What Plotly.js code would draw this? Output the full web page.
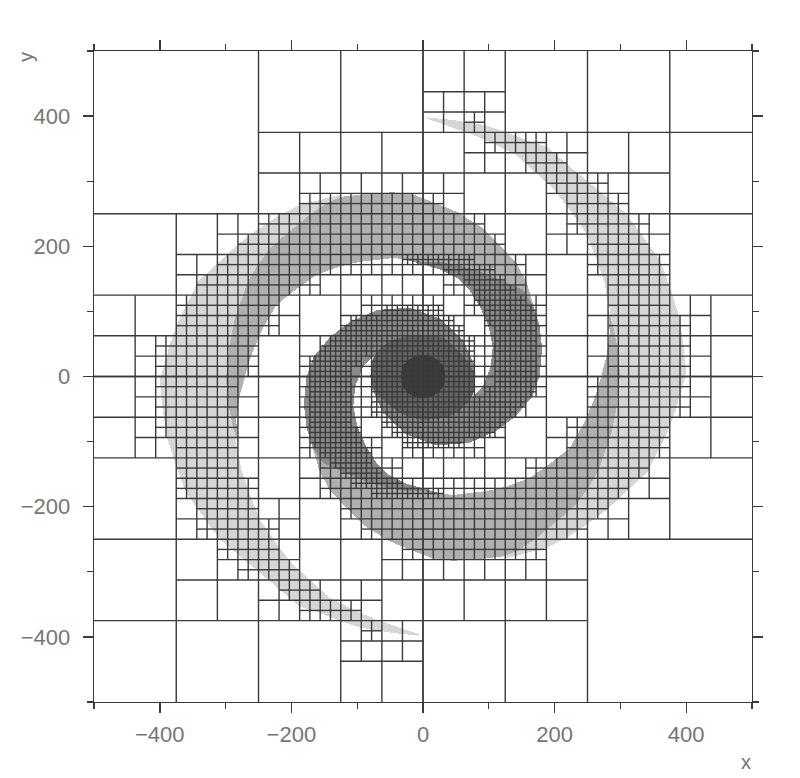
<!DOCTYPE html>
<html><head><meta charset="utf-8">
<script src="https://cdn.plot.ly/plotly-3.0.1.min.js"></script>
<style>html,body{margin:0;padding:0;background:#fff}
.scatterlayer .fills path{shape-rendering:crispEdges}</style>
</head><body><div id="chart" style="width:800px;height:778px"></div>
<script>
// Arm outlines (data units): the galaxy is point-symmetric,
// so each list traces one arm and the opposite arm is its 180-degree image.
const lightX=[6,46,94,125,157,188,218,248,279,309,334,360,375,388,395,400,390,385,372,357,342,312,279,248,218,188,157,127,100,230,275,271,279,284,284,276,264,248,223,198,167,142,107,76,46,6];
const lightY=[398,394,386,376,363,353,327,302,276,250,215,179,138,97,56,5,-28,-49,-84,-115,-146,-174,-205,-228,-248,-263,-271,-279,-230,-130,-30,5,31,66,102,143,179,220,256,289,317,340,358,371,382,396];
const midX=[281,289,298,299,294,286,266,251,233,203,173,147,124,81,46,16,0,-20,-51,-91,-121,-142,-157,-172,-140,-75,-30,0,16,46,97,127,162,198,223,246,259,271,279,284];
const midY=[102,77,31,0,-49,-89,-146,-171,-197,-222,-248,-266,-276,-281,-283,-280,-274,-266,-253,-228,-197,-174,-146,-95,-100,-145,-172,-174,-179,-182,-176,-169,-156,-130,-110,-69,-38,0,31,66];
const darkX=[31,0,-35,-76,-111,-152,-167,-177,-181,-177,-166,-141,-111,-70,-20,26,61,79,74,0,-73,-91,-103,-106,-99,-86,-71,-51,-25,0];
const darkY=[-181,-176,-175,-165,-151,-133,-110,-79,-43,0,31,61,84,102,106,89,56,15,-26,0,33,15,-15,-46,-79,-108,-132,-152,-165,-172];
const ringX=[-80,-73,-55,-30,0,31,61,79,74,51,26,-5,-35,-60,-75];
const ringY=[0,33,51,61,64,59,31,0,-31,-56,-64,-66,-56,-36,-20];
const coreX=[-34,-30,-17,0,17,30,34,30,17,0,-17,-30];
const coreY=[0,17,29,34,29,17,0,-17,-29,-34,-29,-17];

// Quadtree cells that are split, upper half, in index units of 15.625:
// each row is [bottom index j, [from i, to i, from i, to i ...]].
const split64=[[-32,[-32,32]]];
const split32=[[0,[-32,32]]];
const split16=[[16,[-16,32]],[0,[-32,32]]];
const split8=[[24,[0,8]],[16,[-16,24]],[8,[-24,24]],[0,[-32,32]]];
const split4=[[24,[0,8]],[20,[4,16]],[16,[-12,4,12,20]],[12,[-20,8,12,24]],[8,[-24,12,16,24]],[4,[-24,-12,-8,12,16,28]],[0,[-28,-16,-12,12,16,28]]];
const split2=[[24,[4,6]],[22,[6,12]],[20,[10,14]],[18,[12,18]],[16,[-12,2,14,20]],[14,[-16,6,14,22]],[12,[-18,8,16,22]],[10,[-20,10,16,24]],[8,[-22,-10,2,10,18,24]],[6,[-24,-14,-6,2,4,12,18,24]],[4,[-24,-14,-8,4,6,12,18,26]],[2,[-26,-16,-10,12,18,26]],[0,[-26,-16,-12,12,18,26]]];
const split1=[[11,[-2,5]],[10,[2,7]],[9,[4,8]],[8,[5,9]],[7,[5,10]],[6,[-4,2,6,11]],[5,[-7,3,6,11]],[4,[-8,4,7,11]],[3,[-9,5,7,11]],[2,[-10,5,7,11]],[1,[-11,-6,-5,5,7,11]],[0,[-11,-7,-5,5,7,11]]];

const xTickVals=[-400,-200,0,200,400];
const fills=['#d6d6d6','#b0b0b0','#8a8a8a','#646464','#3c3c3c'];
const lineColor='#3a3a3a', textColor='#767676';

const UNIT=15.625;
const gx=[],gy=[];
function seg(x0,y0,x1,y1){gx.push(x0*UNIT,x1*UNIT,null);gy.push(y0*UNIT,y1*UNIT,null);}
function cross(i,j,s){seg(i+s/2,j,i+s/2,j+s);seg(i,j+s/2,i+s,j+s/2);}
function addLevel(rows,s){
  rows.forEach(([j,spans])=>{
    for(let k=0;k<spans.length;k+=2){
      for(let i=spans[k];i<spans[k+1];i+=s){
        cross(i,j,s);
        cross(-i-s,-j-s,s);
      }
    }
  });
}
addLevel(split64,64);addLevel(split32,32);addLevel(split16,16);addLevel(split8,8);addLevel(split4,4);addLevel(split2,2);addLevel(split1,1);

function area(x,y,c,shape){return {x:x,y:y,type:'scatter',mode:'lines',fill:'toself',fillcolor:c,line:{width:0,color:c,shape:shape||'linear'},hoverinfo:'skip',showlegend:false};}
const neg=a=>a.map(v=>-v);
const traces=[
  area(lightX,lightY,fills[0]),area(neg(lightX),neg(lightY),fills[0]),
  area(midX,midY,fills[1]),area(neg(midX),neg(midY),fills[1]),
  area(darkX,darkY,fills[2]),area(neg(darkX),neg(darkY),fills[2]),
  area(ringX,ringY,fills[3],'spline'),area(coreX,coreY,fills[4],'spline'),
  {x:gx,y:gy,type:'scatter',mode:'lines',line:{color:lineColor,width:1.4,simplify:false},connectgaps:false,hoverinfo:'skip',showlegend:false}
];
const axisBase={range:[-500,500],showgrid:false,zeroline:false,showline:true,linecolor:lineColor,linewidth:1.4,mirror:'allticks',
  ticks:'outside',ticklen:10,tickwidth:1.4,tickcolor:lineColor,tickmode:'array',tickvals:xTickVals,
  tickfont:{family:'Liberation Sans',size:22,color:textColor},
  minor:{tickmode:'array',tickvals:[-500,-300,-100,100,300,500],ticks:'outside',ticklen:6,tickwidth:1.4,tickcolor:lineColor,showgrid:false}};
const layout={width:800,height:778,margin:{l:94,r:48,t:51,b:76,pad:0},paper_bgcolor:'#fff',plot_bgcolor:'#fff',showlegend:false,
  xaxis:Object.assign({},axisBase,{ticklabelstandoff:2}),
  yaxis:Object.assign({},axisBase,{ticklabelstandoff:8}),
  annotations:[
    {text:'x',xref:'paper',yref:'paper',x:(746-94)/658,y:(702-762)/651,xanchor:'center',yanchor:'middle',showarrow:false,font:{family:'Liberation Sans',size:20,color:textColor}},
    {text:'y',xref:'paper',yref:'paper',x:(26-94)/658,y:(702-57)/651,xanchor:'center',yanchor:'middle',textangle:-90,showarrow:false,font:{family:'Liberation Sans',size:20,color:textColor}}
  ]};
Plotly.newPlot('chart',traces,layout,{displayModeBar:false,staticPlot:true});
</script></body></html>
